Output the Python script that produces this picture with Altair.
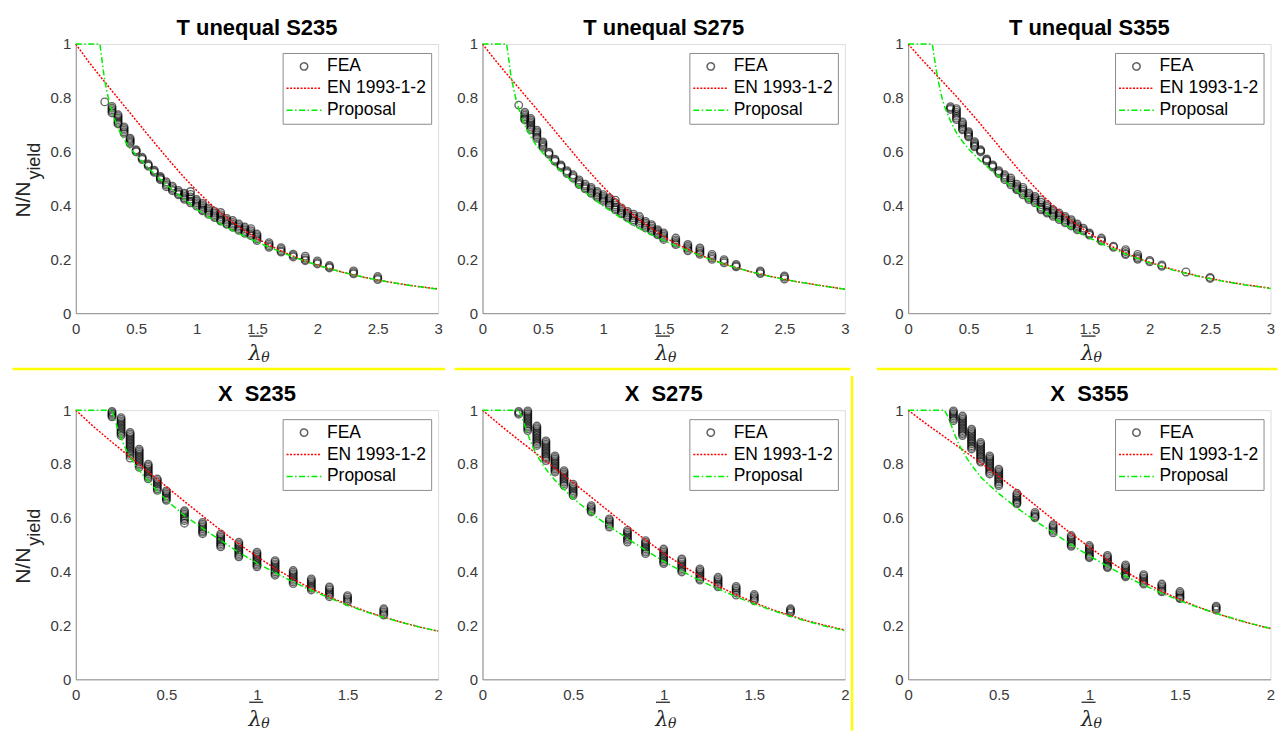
import altair as alt
import pandas as pd

FONT = "Liberation Sans"
SERIF = "DejaVu Serif"
LABEL_C = "#3a3a3a"
AXIS_C = "#8f8f8f"
TITLE_C = "#262626"

# ---------------- series / legend ----------------
series_names = ["FEA", "EN 1993-1-2", "Proposal"]
series_colors = ["#606060", "#ff0000", "#00ee00"]
en_dash = [2, 1.5]
pr_dash = [6, 2.5, 1.5, 2.5]
series_dashes = [[1, 0], en_dash, pr_dash]
CIRC = "M0.46,0A0.46,0.46,0,1,1,-0.46,0A0.46,0.46,0,1,1,0.46,0Z"
LINE = "M-2.19,0L2.19,0"
series_shapes = [CIRC, LINE, LINE]

# ---------------- tick values ----------------
x_ticks_top = [0, 0.5, 1, 1.5, 2, 2.5, 3]
x_ticks_bot = [0, 0.5, 1, 1.5, 2]
y_ticks = [0, 0.2, 0.4, 0.6, 0.8, 1]

# ---------------- EN 1993-1-2 curves ----------------
en_lam = [0.0, 0.1, 0.2, 0.3, 0.4, 0.5, 0.6, 0.7, 0.8, 0.9, 1.0, 1.1, 1.2, 1.3,
          1.4, 1.5, 1.6, 1.7, 1.8, 1.9, 2.0, 2.2, 2.4, 2.6, 2.8, 3.0]
en_s235 = [1.0, 0.938, 0.881, 0.826, 0.771, 0.716, 0.661, 0.607, 0.554, 0.503, 0.456,
           0.412, 0.373, 0.337, 0.306, 0.278, 0.253, 0.231, 0.212, 0.194, 0.179,
           0.153, 0.132, 0.115, 0.101, 0.090]
en_s275 = [1.0, 0.943, 0.889, 0.837, 0.784, 0.731, 0.677, 0.623, 0.569, 0.518, 0.469,
           0.424, 0.383, 0.347, 0.314, 0.285, 0.259, 0.237, 0.216, 0.199, 0.183,
           0.156, 0.135, 0.117, 0.103, 0.089]
en_s355 = [1.0, 0.949, 0.901, 0.853, 0.805, 0.754, 0.702, 0.648, 0.594, 0.541, 0.491,
           0.443, 0.400, 0.361, 0.327, 0.296, 0.269, 0.245, 0.224, 0.205, 0.189,
           0.161, 0.138, 0.120, 0.105, 0.093]

# ---------------- Proposal curves ----------------
pr_top_lam = [0, 0.2, 0.21, 0.22, 0.23, 0.24, 0.26, 0.28, 0.3, 0.33, 0.36, 0.4, 0.45,
              0.5, 0.6, 0.7, 0.8, 0.9, 1.0, 1.1, 1.2, 1.3, 1.4, 1.5, 1.6, 1.8, 2.0,
              2.2, 2.4, 2.6, 2.8, 3.0]
pr_t235 = [1, 1, 0.965, 0.93, 0.895, 0.865, 0.82, 0.78, 0.75, 0.71, 0.68, 0.645, 0.612,
           0.587, 0.54, 0.497, 0.458, 0.422, 0.387, 0.358, 0.332, 0.307, 0.285, 0.265,
           0.245, 0.209, 0.178, 0.153, 0.132, 0.115, 0.101, 0.089]
pr_t275 = [1, 1, 0.967, 0.935, 0.9, 0.87, 0.83, 0.79, 0.76, 0.72, 0.69, 0.655, 0.62,
           0.595, 0.548, 0.507, 0.468, 0.432, 0.398, 0.368, 0.34, 0.314, 0.291, 0.27,
           0.251, 0.214, 0.182, 0.156, 0.134, 0.117, 0.102, 0.089]
pr_t355 = [1, 1, 0.97, 0.94, 0.91, 0.885, 0.84, 0.80, 0.77, 0.735, 0.705, 0.67, 0.638,
           0.61, 0.565, 0.527, 0.49, 0.454, 0.418, 0.386, 0.356, 0.328, 0.303, 0.28,
           0.258, 0.22, 0.187, 0.159, 0.137, 0.119, 0.104, 0.092]

pr_bot_lam = [0, 0.2, 0.22, 0.24, 0.26, 0.28, 0.3, 0.33, 0.36, 0.4, 0.45, 0.5, 0.6, 0.7,
              0.8, 0.9, 1.0, 1.1, 1.2, 1.3, 1.4, 1.5, 1.6, 1.7, 1.8, 1.9, 2.0]
pr_x235 = [1, 1, 0.955, 0.915, 0.88, 0.85, 0.825, 0.795, 0.768, 0.737, 0.7, 0.666, 0.608,
           0.561, 0.516, 0.472, 0.432, 0.396, 0.362, 0.331, 0.302, 0.275, 0.251, 0.23,
           0.211, 0.194, 0.179]
pr_x275 = [1, 1, 0.97, 0.93, 0.893, 0.86, 0.833, 0.8, 0.772, 0.74, 0.705, 0.673, 0.617,
           0.568, 0.523, 0.48, 0.438, 0.402, 0.367, 0.336, 0.307, 0.28, 0.256, 0.234,
           0.214, 0.196, 0.181]
pr_x355 = [1, 1, 0.975, 0.94, 0.905, 0.873, 0.848, 0.815, 0.787, 0.752, 0.72, 0.69, 0.637,
           0.59, 0.545, 0.5, 0.459, 0.42, 0.383, 0.35, 0.32, 0.292, 0.267, 0.245, 0.225,
           0.206, 0.189]

# ---------------- FEA results ----------------
t_lam = [0.3, 0.35, 0.4, 0.45, 0.5, 0.55, 0.6, 0.65, 0.7, 0.75, 0.8, 0.85, 0.9, 0.95,
         1.0, 1.05, 1.1, 1.15, 1.2, 1.25, 1.3, 1.35, 1.4, 1.45, 1.5, 1.6, 1.7, 1.8,
         1.9, 2.0, 2.1, 2.3, 2.5]
t235_x = [0.24] + t_lam
t235_y = [
    [0.785],
    [0.768, 0.762, 0.756, 0.75, 0.744],
    [0.737, 0.731, 0.725, 0.719, 0.713, 0.707, 0.703],
    [0.692, 0.686, 0.68, 0.674, 0.668],
    [0.65, 0.645, 0.64, 0.635, 0.63],
    [0.607, 0.603, 0.599],
    [0.579, 0.575, 0.571],
    [0.554, 0.55, 0.546],
    [0.531, 0.527, 0.523],
    [0.508, 0.504, 0.5, 0.496],
    [0.488, 0.482, 0.476, 0.47],
    [0.472, 0.466, 0.46, 0.455],
    [0.456, 0.45, 0.444, 0.44],
    [0.446, 0.44, 0.434, 0.428, 0.423],
    [0.452, 0.441, 0.432, 0.424, 0.416, 0.41],
    [0.422, 0.416, 0.41, 0.404, 0.398],
    [0.408, 0.402, 0.396, 0.39, 0.384, 0.38],
    [0.391, 0.385, 0.379, 0.373, 0.367],
    [0.378, 0.372, 0.366, 0.36, 0.355],
    [0.374, 0.366, 0.359, 0.352, 0.346, 0.342],
    [0.352, 0.346, 0.34, 0.334, 0.33],
    [0.344, 0.337, 0.331, 0.325, 0.319],
    [0.331, 0.325, 0.319, 0.313, 0.308],
    [0.32, 0.314, 0.308, 0.302, 0.297],
    [0.314, 0.306, 0.299, 0.293, 0.288],
    [0.294, 0.288, 0.282, 0.276, 0.27],
    [0.262, 0.256, 0.25, 0.245],
    [0.243, 0.237, 0.231, 0.227],
    [0.219, 0.214, 0.209],
    [0.212, 0.205, 0.199, 0.195],
    [0.194, 0.188, 0.183],
    [0.177, 0.172, 0.168],
    [0.157, 0.151, 0.146],
    [0.136, 0.13, 0.125],
]
t275_x = t_lam
t275_y = [
    [0.773],
    [0.747, 0.741, 0.735, 0.729, 0.723, 0.718],
    [0.723, 0.717, 0.711, 0.705, 0.699, 0.693, 0.687, 0.681],
    [0.68, 0.674, 0.668, 0.662, 0.656, 0.65],
    [0.636, 0.631, 0.626, 0.621, 0.616],
    [0.598, 0.594, 0.59],
    [0.572, 0.568, 0.564],
    [0.551, 0.547, 0.543],
    [0.529, 0.524, 0.519],
    [0.514, 0.508, 0.502],
    [0.495, 0.489, 0.483, 0.478],
    [0.479, 0.473, 0.467, 0.462],
    [0.467, 0.461, 0.455, 0.449, 0.445],
    [0.452, 0.446, 0.44, 0.434, 0.43],
    [0.44, 0.434, 0.428, 0.422, 0.416],
    [0.428, 0.422, 0.416, 0.41, 0.404, 0.4],
    [0.42, 0.41, 0.402, 0.395, 0.389, 0.384],
    [0.391, 0.385, 0.379, 0.373, 0.369],
    [0.378, 0.372, 0.366, 0.36, 0.355],
    [0.368, 0.361, 0.354, 0.347, 0.341],
    [0.359, 0.351, 0.344, 0.337, 0.33],
    [0.341, 0.335, 0.329, 0.323, 0.317],
    [0.329, 0.323, 0.317, 0.311, 0.305],
    [0.31, 0.305, 0.3, 0.295, 0.291],
    [0.298, 0.292, 0.286, 0.28, 0.274],
    [0.279, 0.272, 0.266, 0.26, 0.255],
    [0.255, 0.249, 0.243, 0.237, 0.232],
    [0.242, 0.236, 0.23, 0.224, 0.219],
    [0.218, 0.212, 0.206, 0.2],
    [0.199, 0.193, 0.187],
    [0.181, 0.176, 0.172],
    [0.157, 0.152, 0.147],
    [0.138, 0.133, 0.127],
]
t355_x = t_lam[1:]
t355_y = [
    [0.767, 0.762, 0.757],
    [0.76, 0.753, 0.746, 0.739, 0.732, 0.725, 0.719],
    [0.71, 0.704, 0.698, 0.692, 0.686, 0.681],
    [0.674, 0.669, 0.664, 0.659, 0.655],
    [0.637, 0.632, 0.627, 0.622, 0.618],
    [0.607, 0.603, 0.599],
    [0.573, 0.569, 0.565],
    [0.551, 0.547, 0.543],
    [0.529, 0.524, 0.519],
    [0.514, 0.508, 0.502, 0.496],
    [0.502, 0.495, 0.489, 0.483, 0.477],
    [0.479, 0.473, 0.467, 0.462, 0.458],
    [0.467, 0.46, 0.453, 0.446, 0.44],
    [0.446, 0.44, 0.434, 0.428, 0.422],
    [0.434, 0.428, 0.422, 0.416, 0.41],
    [0.421, 0.412, 0.403, 0.395, 0.389, 0.384],
    [0.403, 0.396, 0.389, 0.382, 0.376, 0.372],
    [0.384, 0.378, 0.372, 0.366, 0.36],
    [0.372, 0.366, 0.36, 0.354, 0.348],
    [0.359, 0.353, 0.347, 0.341, 0.336],
    [0.347, 0.341, 0.335, 0.329, 0.324],
    [0.331, 0.325, 0.32, 0.315, 0.31],
    [0.316, 0.31, 0.305],
    [0.298, 0.294, 0.29],
    [0.279, 0.273, 0.268],
    [0.249, 0.245],
    [0.236, 0.229, 0.222, 0.218],
    [0.218, 0.211, 0.205, 0.2],
    [0.196, 0.191],
    [0.179, 0.174],
    [0.153],
    [0.133, 0.129],
]

b_lam = [0.2, 0.25, 0.3, 0.35, 0.4, 0.45, 0.5, 0.6, 0.7, 0.8, 0.9, 1.0, 1.1, 1.2, 1.3,
         1.4, 1.5, 1.7]
x235_y = [
    [0.995, 0.99, 0.985, 0.98, 0.975],
    [0.972, 0.966, 0.96, 0.954, 0.948, 0.942, 0.936, 0.93, 0.924, 0.918, 0.912, 0.906],
    [0.917, 0.911, 0.905, 0.899, 0.893, 0.887, 0.881, 0.875, 0.869, 0.863, 0.857, 0.851,
     0.845, 0.839, 0.832, 0.822],
    [0.855, 0.849, 0.843, 0.837, 0.831, 0.825, 0.819, 0.813, 0.807, 0.801, 0.795, 0.788],
    [0.799, 0.793, 0.787, 0.781, 0.775, 0.769, 0.763, 0.757, 0.751, 0.745],
    [0.744, 0.738, 0.732, 0.726, 0.72, 0.714, 0.708, 0.702],
    [0.7, 0.694, 0.688, 0.682, 0.676, 0.67, 0.665],
    [0.626, 0.62, 0.614, 0.608, 0.602, 0.596, 0.59, 0.58],
    [0.583, 0.577, 0.571, 0.565, 0.559, 0.553, 0.547, 0.541],
    [0.54, 0.534, 0.528, 0.522, 0.516, 0.51, 0.504, 0.498, 0.492],
    [0.509, 0.503, 0.497, 0.491, 0.485, 0.479, 0.473, 0.467, 0.461, 0.455],
    [0.472, 0.466, 0.46, 0.454, 0.448, 0.442, 0.436, 0.43, 0.424, 0.418],
    [0.441, 0.435, 0.429, 0.423, 0.417, 0.411, 0.405, 0.399, 0.393, 0.387],
    [0.404, 0.398, 0.392, 0.386, 0.38, 0.374, 0.368, 0.362, 0.356],
    [0.373, 0.367, 0.361, 0.355, 0.349, 0.343, 0.338, 0.332],
    [0.343, 0.337, 0.331, 0.325, 0.319, 0.313, 0.307],
    [0.311, 0.305, 0.299, 0.293, 0.288],
    [0.262, 0.256, 0.25, 0.244, 0.239],
]
x275_y = [
    [0.995, 0.99, 0.985],
    [0.997, 0.991, 0.985, 0.979, 0.973, 0.967, 0.961, 0.955, 0.949, 0.943, 0.937, 0.931,
     0.924],
    [0.941, 0.935, 0.929, 0.923, 0.917, 0.911, 0.905, 0.899, 0.893, 0.887, 0.881, 0.875,
     0.869],
    [0.886, 0.88, 0.874, 0.868, 0.862, 0.856, 0.85, 0.844, 0.838, 0.832, 0.826, 0.82,
     0.813],
    [0.83, 0.824, 0.818, 0.812, 0.806, 0.8, 0.794, 0.788, 0.782, 0.776, 0.77],
    [0.775, 0.769, 0.763, 0.757, 0.751, 0.745, 0.739, 0.733, 0.727, 0.72],
    [0.725, 0.719, 0.713, 0.707, 0.701, 0.695, 0.689, 0.683],
    [0.645, 0.639, 0.633, 0.627, 0.622],
    [0.596, 0.59, 0.584, 0.578, 0.572, 0.566],
    [0.553, 0.547, 0.541, 0.535, 0.529, 0.523, 0.517, 0.51],
    [0.515, 0.509, 0.503, 0.497, 0.491, 0.485, 0.479, 0.473, 0.467],
    [0.484, 0.478, 0.472, 0.466, 0.46, 0.454, 0.448, 0.442, 0.436, 0.43],
    [0.447, 0.441, 0.435, 0.429, 0.423, 0.417, 0.411, 0.405, 0.399],
    [0.41, 0.404, 0.398, 0.392, 0.386, 0.38, 0.374, 0.369],
    [0.379, 0.373, 0.367, 0.361, 0.355, 0.349, 0.344],
    [0.345, 0.339, 0.333, 0.327, 0.321, 0.313],
    [0.315, 0.309, 0.303, 0.297, 0.292],
    [0.262, 0.257, 0.252, 0.247],
]
x355_x = b_lam[1:]
x355_y = [
    [0.997, 0.991, 0.985, 0.979, 0.973, 0.967, 0.961],
    [0.978, 0.972, 0.966, 0.96, 0.954, 0.948, 0.942, 0.936, 0.93, 0.924, 0.918, 0.912,
     0.906],
    [0.929, 0.923, 0.917, 0.911, 0.905, 0.899, 0.893, 0.887, 0.881, 0.875, 0.868, 0.862,
     0.856],
    [0.88, 0.874, 0.868, 0.862, 0.856, 0.85, 0.844, 0.838, 0.832, 0.826, 0.82, 0.813,
     0.807],
    [0.83, 0.824, 0.818, 0.812, 0.806, 0.8, 0.794, 0.788, 0.782, 0.776, 0.769, 0.763],
    [0.781, 0.775, 0.769, 0.763, 0.757, 0.751, 0.745, 0.739, 0.733, 0.726, 0.72],
    [0.691, 0.685, 0.679, 0.673, 0.667, 0.661, 0.656, 0.652],
    [0.62, 0.614, 0.608, 0.604, 0.6],
    [0.574, 0.568, 0.562, 0.556, 0.55, 0.544],
    [0.534, 0.528, 0.522, 0.516, 0.51, 0.504, 0.499, 0.494],
    [0.497, 0.491, 0.485, 0.479, 0.473, 0.467, 0.461, 0.456, 0.452],
    [0.46, 0.454, 0.448, 0.442, 0.436, 0.43, 0.424, 0.419, 0.415],
    [0.425, 0.419, 0.413, 0.407, 0.401, 0.395, 0.389, 0.385, 0.381],
    [0.389, 0.383, 0.377, 0.371, 0.365, 0.359, 0.354],
    [0.354, 0.348, 0.342, 0.336, 0.33, 0.325],
    [0.326, 0.32, 0.314, 0.308, 0.303, 0.3],
    [0.272, 0.267, 0.262, 0.257],
]

# ---------------- layout constants ----------------
W, H = 363.5, 270
one = pd.DataFrame({"k": [0]})


def deco_text(text, x, y, **kw):
    return alt.Chart(one).mark_text(text=text, **kw).encode(
        x=alt.value(x), y=alt.value(y))


def deco_rule(color, width, x, y, x2=None, y2=None, opacity=1.0):
    enc = {"x": alt.value(x), "y": alt.value(y)}
    if x2 is not None:
        enc["x2"] = alt.value(x2)
    if y2 is not None:
        enc["y2"] = alt.value(y2)
    return alt.Chart(one).mark_rule(color=color, strokeWidth=width,
                                    opacity=opacity).encode(**enc)


def panel(title, xmax, xticks, fea_x, fea_y, en_y, pr_lam, pr_y, ytitle, extras):
    fea = pd.DataFrame([{"lam": x, "chi": y} for x, col in zip(fea_x, fea_y) for y in col])
    en = pd.DataFrame({"lam": en_lam, "chi": en_y})
    en = en[en["lam"] <= xmax + 1e-9]
    pr = pd.DataFrame({"lam": pr_lam, "chi": pr_y})

    xax = alt.Axis(values=xticks, format=".1~f", title=None, grid=False, ticks=False,
                   tickSize=0, labelPadding=8, labelFlush=False, labelOverlap=False,
                   labelFont=FONT, labelFontSize=15, labelColor=LABEL_C,
                   domainColor=AXIS_C, domainWidth=1)
    yax = alt.Axis(values=y_ticks, format=".1~f", title=None, grid=False, ticks=False,
                   tickSize=0, labelPadding=5, labelFlush=False, labelOverlap=False,
                   labelFont=FONT, labelFontSize=15, labelColor=LABEL_C,
                   domainColor=AXIS_C, domainWidth=1)
    X = alt.X("lam:Q", scale=alt.Scale(domain=[0, xmax], nice=False), axis=xax)
    Y = alt.Y("chi:Q", scale=alt.Scale(domain=[0, 1], nice=False), axis=yax)

    pts = alt.Chart(fea).mark_point(shape="circle", filled=False, size=58, stroke="#000000",
                                    strokeWidth=1.35, strokeOpacity=0.85).encode(x=X, y=Y)
    enl = alt.Chart(en).mark_line(color="#ff0000", strokeWidth=1.5,
                                  strokeDash=en_dash).encode(x=X, y=Y)
    prl = alt.Chart(pr).mark_line(color="#00ee00", strokeWidth=1.5,
                                  strokeDash=pr_dash).encode(x=X, y=Y)

    legend = alt.Legend(title=None, orient="none", legendX=207.5, legendY=9, padding=4.5,
                        strokeColor="#8c8c8c", fillColor="white", labelFont=FONT,
                        labelFontSize=17.5, labelColor="#000000", symbolSize=256,
                        symbolStrokeWidth=1.5, symbolOffset=8, labelOffset=14,
                        rowPadding=4, symbolOpacity=1)
    leg_df = pd.DataFrame({"series": series_names})
    leg = alt.Chart(leg_df).mark_point(opacity=0, filled=False).encode(
        color=alt.Color("series:N", scale=alt.Scale(domain=series_names, range=series_colors),
                        legend=legend),
        shape=alt.Shape("series:N", scale=alt.Scale(domain=series_names, range=series_shapes),
                        legend=legend),
        strokeDash=alt.StrokeDash("series:N",
                                  scale=alt.Scale(domain=series_names, range=series_dashes),
                                  legend=legend),
    )

    layers = [pts, enl, prl, leg,
              deco_text(title, W / 2, -9, font=FONT, fontSize=22, fontWeight="bold",
                        align="center", baseline="alphabetic", color="#000000"),
              deco_text("λ", 180, 317, font=SERIF, fontStyle="italic", fontSize=21,
                        align="center", baseline="alphabetic", color=TITLE_C),
              deco_text("θ", 186, 319, font=SERIF, fontStyle="italic", fontSize=14,
                        align="left", baseline="alphabetic", color=TITLE_C),
              deco_rule(TITLE_C, 1.3, 174, 293, x2=188)]
    if ytitle:
        layers += [
            deco_text("N/N", -46, 138, font=FONT, fontSize=21, angle=270, align="right",
                      baseline="alphabetic", color=TITLE_C),
            deco_text("yield", -36, 136, font=FONT, fontSize=18, angle=270, align="left",
                      baseline="alphabetic", color=TITLE_C),
        ]
    layers += extras
    return alt.layer(*layers).properties(width=W, height=H)


YEL = "#ffff00"
anchor = deco_rule("#ffffff", 0, -75.5, -42, x2=-74.5, opacity=0)

p1 = panel("T unequal S235", 3, x_ticks_top, t235_x, t235_y, en_s235, pr_top_lam, pr_t235, True,
           [anchor, deco_rule(YEL, 2.5, -63.5, 326, x2=370.5)])
p2 = panel("T unequal S275", 3, x_ticks_top, t275_x, t275_y, en_s275, pr_top_lam, pr_t275, False,
           [deco_rule(YEL, 2.5, -28, 326, x2=369)])
p3 = panel("T unequal S355", 3, x_ticks_top, t355_x, t355_y, en_s355, pr_top_lam, pr_t355, False,
           [deco_rule(YEL, 2.5, -31.5, 326, x2=370.5)])
p4 = panel("X\u00a0\u00a0S235", 2, x_ticks_bot, b_lam, x235_y, en_s235, pr_bot_lam, pr_x235, True, [])
p5 = panel("X\u00a0\u00a0S275", 2, x_ticks_bot, b_lam, x275_y, en_s275, pr_bot_lam, pr_x275, False,
           [deco_rule(YEL, 2.5, 370.7, -34.3, y2=321.7)])
p6 = panel("X\u00a0\u00a0S355", 2, x_ticks_bot, x355_x, x355_y, en_s355, pr_bot_lam, pr_x355, False, [])


def spacer(w):
    return alt.Chart(pd.DataFrame({"k": []})).mark_point().properties(width=w, height=H)


chart = alt.concat(
    p1, spacer(24), p2, spacer(43), p3,
    p4, spacer(24), p5, spacer(43), p6,
    columns=5, spacing={"row": 97.3, "column": 10}, bounds="flush", align="each",
).resolve_scale(
    x="independent", y="independent", color="independent", shape="independent",
    strokeDash="independent",
).properties(
    padding=0, background="white",
).configure_view(strokeWidth=0).configure(font=FONT)

chart.save("out.html", embed_options={"renderer": "svg", "actions": False})
